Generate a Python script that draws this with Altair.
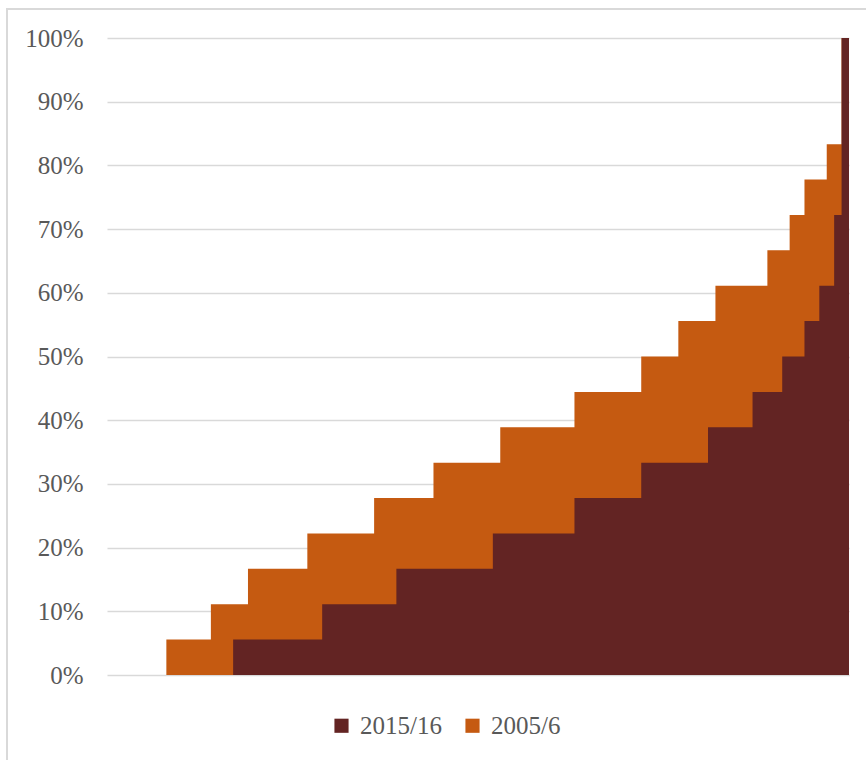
import altair as alt
import pandas as pd

series_names = ["2015/16", "2005/6"]
colors = ["#632423", "#C55A11"]

# 2005/6 cumulative share (step positions on a 0-100 axis)
x_2005 = [0, 8, 14, 19, 27, 36, 44, 53, 63, 72, 77, 82, 89, 92, 94, 97, 99, 100]
y_2005 = [0, 0.0556, 0.1111, 0.1667, 0.2222, 0.2778, 0.3333, 0.3889, 0.4444,
          0.5, 0.5556, 0.6111, 0.6667, 0.7222, 0.7778, 0.8333, 1.0, 1.0]

# 2015/16 cumulative share
x_2015 = [0, 17, 29, 39, 52, 63, 72, 81, 87, 91, 94, 96, 98, 99, 100]
y_2015 = [0, 0.0556, 0.1111, 0.1667, 0.2222, 0.2778, 0.3333, 0.3889, 0.4444,
          0.5, 0.5556, 0.6111, 0.7222, 1.0, 1.0]

df_2005 = pd.DataFrame({"x": x_2005, "y": y_2005, "series": "2005/6"})
df_2015 = pd.DataFrame({"x": x_2015, "y": y_2015, "series": "2015/16"})

FONT = "Liberation Serif"
GRAY = "#595959"

color_enc = alt.Color(
    "series:N",
    scale=alt.Scale(domain=series_names, range=colors),
    legend=alt.Legend(
        title=None, orient="none", direction="horizontal",
        legendX=222, legendY=675, symbolType="square", symbolSize=200,
        symbolStrokeWidth=0, labelFont=FONT, labelFontSize=25, labelColor=GRAY,
        columnPadding=18, labelOffset=6, symbolOpacity=1,
    ),
)

x_enc = alt.X("x:Q", scale=alt.Scale(domain=[0, 100], nice=False, zero=False), axis=None)
y_enc = alt.Y(
    "y:Q",
    scale=alt.Scale(domain=[0, 1], nice=False),
    axis=alt.Axis(
        format=".0%", values=[i / 10 for i in range(11)], domain=False, ticks=False,
        grid=True, gridColor="#d9d9d9", gridWidth=1.5, labelFont=FONT,
        labelFontSize=25, labelColor=GRAY, labelPadding=24, title=None,
    ),
)

area_2005 = alt.Chart(df_2005).mark_area(interpolate="step-after", opacity=1).encode(
    x=x_enc, y=y_enc, color=color_enc
)
area_2015 = alt.Chart(df_2015).mark_area(interpolate="step-after", opacity=1).encode(
    x=x_enc, y=y_enc, color=color_enc
)

border = alt.Chart(pd.DataFrame({"a": [0]})).mark_rect(
    filled=False, stroke="#d9d9d9", strokeWidth=2
).encode(
    x=alt.value(-100), x2=alt.value(770), y=alt.value(-29), y2=alt.value(735)
)

chart = alt.layer(area_2005, area_2015, border).properties(
    width=742, height=637,
    background="white",
    autosize=alt.AutoSizeParams(type="none"),
    padding={"left": 107, "top": 38, "right": 17, "bottom": 85},
).configure_view(stroke="transparent", strokeWidth=0)

chart.save("out.html", embed_options={"renderer": "svg", "actions": False})
